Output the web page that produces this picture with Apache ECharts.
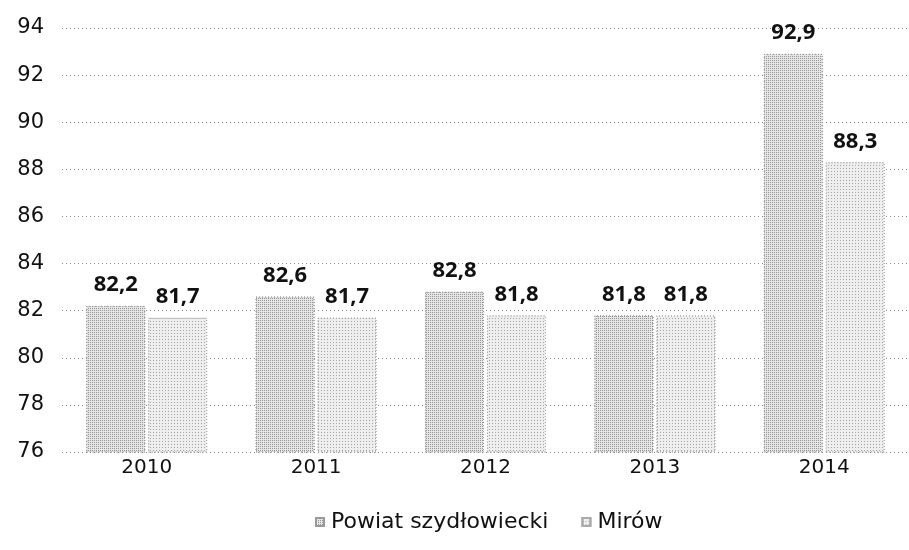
<!DOCTYPE html>
<html>
<head>
<meta charset="utf-8">
<script src="https://cdn.jsdelivr.net/npm/echarts@6/dist/echarts.min.js"></script>
<style>
  html, body { margin: 0; padding: 0; background: #fff; }
  #chart { width: 909px; height: 550px; }
</style>
</head>
<body>
<div id="chart"></div>
<script>
var years = ['2010', '2011', '2012', '2013', '2014']
var powiat = [82.2, 82.6, 82.8, 81.8, 92.9]
var mirow = [81.7, 81.7, 81.8, 81.8, 88.3]

var chart = echarts.init(document.getElementById('chart'))
var font = '"DejaVu Sans", sans-serif'

function fmt (p) {
  return String(p.value).replace('.', ',')
}

var label = {
  show: true,
  position: 'top',
  distance: 10,
  formatter: fmt,
  color: '#111',
  fontFamily: '"Noto Sans", sans-serif',
  fontWeight: 'bold',
  fontSize: 22
}

// kropkowany wzór słupków
function dots (alpha, gap) {
  return {
    symbol: 'rect',
    symbolSize: 1,
    dashArrayX: [1, gap],
    dashArrayY: [1, gap],
    color: 'rgba(0,0,0,' + alpha + ')'
  }
}

chart.setOption({
  animation: false,
  grid: { left: 62, right: -13, top: 28, bottom: 98 },
  legend: {
    bottom: 12,
    left: 310,
    itemWidth: 8,
    itemHeight: 8,
    itemGap: 33,
    icon: 'rect',
    textStyle: { fontFamily: font, fontSize: 22, color: '#111', padding: [0, 0, 0, 2] },
    data: ['Powiat szydłowiecki', 'Mirów']
  },
  xAxis: {
    type: 'category',
    data: years,
    axisLine: { show: false },
    axisTick: { show: false },
    axisLabel: { fontFamily: font, fontSize: 20, color: '#111', margin: 6 }
  },
  yAxis: {
    type: 'value',
    min: 76,
    max: 94,
    interval: 2,
    axisLine: { show: false },
    axisTick: { show: false },
    axisLabel: { fontFamily: font, fontSize: 21, color: '#111', margin: 18 },
    splitLine: { lineStyle: { type: [1, 3], color: '#8a8a8a', width: 1 } }
  },
  series: [
    {
      name: 'Powiat szydłowiecki',
      type: 'bar',
      barWidth: 59,
      barGap: '5%',
      data: powiat,
      itemStyle: {
        color: '#e6e6e6',
        borderColor: '#9a9a9a',
        borderWidth: 1,
        borderType: [1, 2],
        decal: dots(0.35, 1)
      },
      label: label
    },
    {
      name: 'Mirów',
      type: 'bar',
      barWidth: 59,
      data: mirow,
      itemStyle: {
        color: '#eeeeee',
        borderColor: '#aaaaaa',
        borderWidth: 1,
        borderType: [1, 2],
        decal: dots(0.3, 2)
      },
      label: label
    }
  ]
})
</script>
</body>
</html>
